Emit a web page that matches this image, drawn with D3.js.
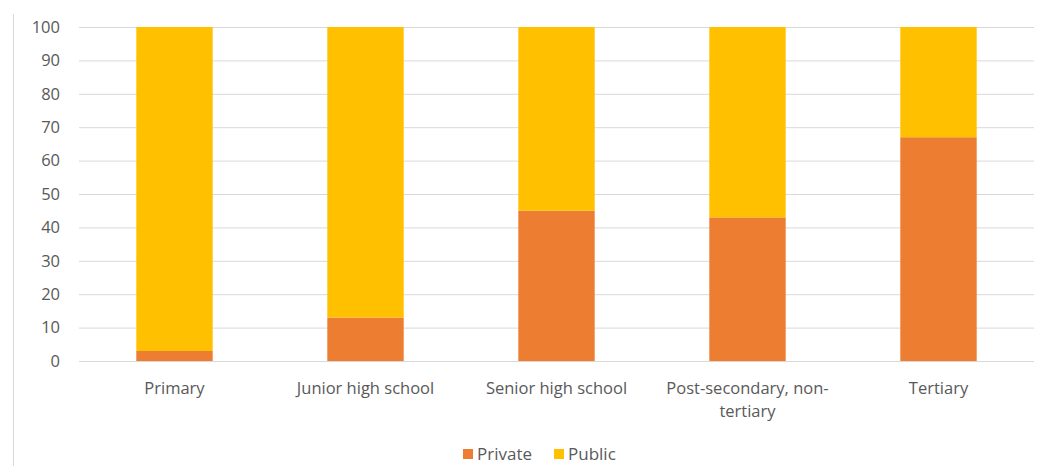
<!DOCTYPE html>
<html>
<head>
<meta charset="utf-8">
<script src="https://cdn.jsdelivr.net/npm/d3@7"></script>
<style>
  body { margin: 0; background: #fff; }
  text { font-family: "Open Sans", "Noto Sans", sans-serif; fill: #595959; }
</style>
</head>
<body>
<script>
// chart values
const categories = [["Primary"], ["Junior high school"], ["Senior high school"], ["Post-secondary, non-", "tertiary"], ["Tertiary"]];
const privateShare = [3, 13, 45, 43, 67];
const publicShare = [97, 87, 55, 57, 33];
const seriesNames = ["Private", "Public"];
const yTicks = [0, 10, 20, 30, 40, 50, 60, 70, 80, 90, 100];

const w = 1044, h = 466;
const margin = {top: 27, right: 10, bottom: 105, left: 79};
const colors = ["#ED7D31", "#FFC000"];
const fs = 16.5;

let svg = d3.select("body").append("svg")
    .attr("width", w)
    .attr("height", h);

// light frame edge on the left
svg.append("line")
    .attr("x1", 13.5).attr("x2", 13.5)
    .attr("y1", 14).attr("y2", h)
    .attr("stroke", "#d9d9d9");

let x = d3.scaleBand()
    .domain(d3.range(categories.length))
    .range([margin.left, 1034])
    .paddingInner(0.6).paddingOuter(0.3);

let y = d3.scaleLinear()
    .domain([0, 100])
    .range([h - margin.bottom, margin.top]);

// gridlines + y labels
let yAxis = g => g
    .attr("transform", `translate(${margin.left},0)`)
    .call(d3.axisLeft(y).tickValues(yTicks).tickSize(-(1034 - margin.left)).tickPadding(19))
    .call(g => g.select(".domain").remove())
    .call(g => g.selectAll(".tick line").attr("stroke", "#d9d9d9"))
    .call(g => g.selectAll(".tick text")
        .attr("font-size", fs)
        .attr("fill", "#595959")
        .style("font-family", "'Open Sans', sans-serif"));

svg.append("g").call(yAxis);

const rows = categories.map((c, i) => ({i: i, Private: privateShare[i], Public: publicShare[i]}));
const stacked = d3.stack().keys(seriesNames)(rows);

svg.append("g")
    .selectAll("g")
    .data(stacked)
    .join("g")
    .attr("fill", (d, k) => colors[k])
    .selectAll("rect")
    .data(d => d)
    .join("rect")
    .attr("x", d => x(d.data.i))
    .attr("width", x.bandwidth())
    .attr("y", d => y(d[1]))
    .attr("height", d => y(d[0]) - y(d[1]));

// category labels (with wrapped second line)
let xLabels = svg.append("g")
    .selectAll("text")
    .data(categories)
    .join("text")
    .attr("text-anchor", "middle")
    .attr("font-size", fs)
    .attr("x", (d, i) => x(i) + x.bandwidth() / 2)
    .attr("y", y(0) + 33);

xLabels.selectAll("tspan")
    .data(d => d)
    .join("tspan")
    .attr("x", function() { return d3.select(this.parentNode).attr("x"); })
    .attr("dy", (d, j) => j === 0 ? 0 : 23)
    .text(d => d);

// legend
const legendX = [463, 554];
let legend = svg.append("g")
    .selectAll("g")
    .data(seriesNames)
    .join("g")
    .attr("transform", (d, i) => `translate(${legendX[i]},449)`);

legend.append("rect")
    .attr("width", 10).attr("height", 10)
    .attr("fill", (d, i) => colors[i]);

legend.append("text")
    .attr("x", 14).attr("y", 11)
    .attr("font-size", 17)
    .text(d => d);
</script>
</body>
</html>
